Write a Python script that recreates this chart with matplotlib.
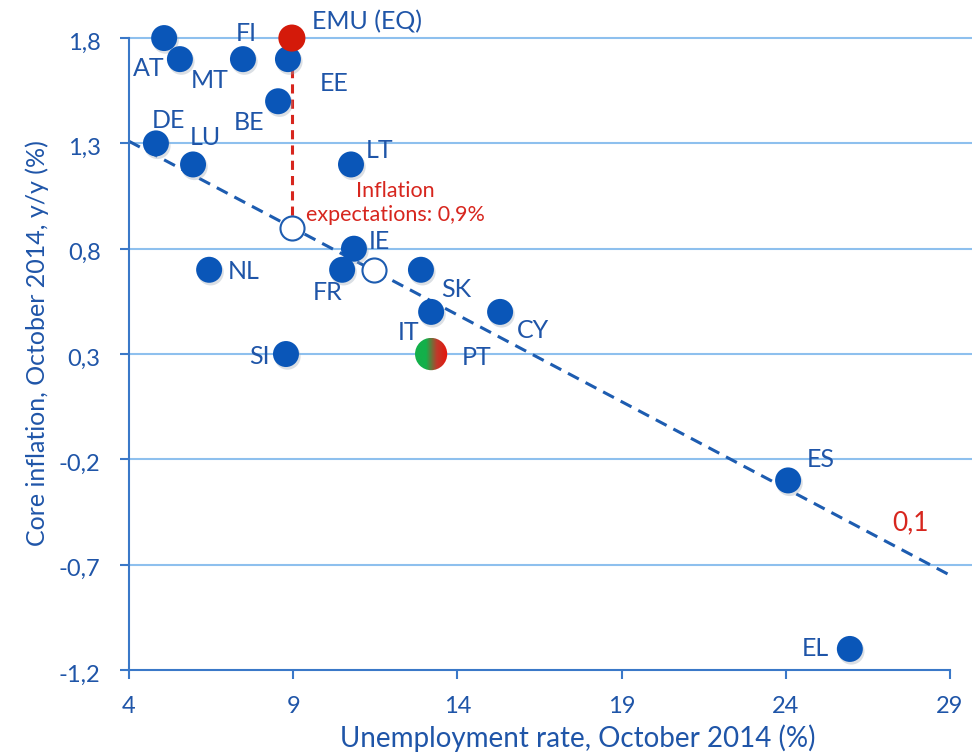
import matplotlib
matplotlib.use("Agg")
import matplotlib.pyplot as plt
import matplotlib.transforms as mtransforms
import numpy as np
from matplotlib.colors import LinearSegmentedColormap
from matplotlib.patches import Ellipse

plt.rcParams['font.family'] = ['Lato', 'DejaVu Sans']

countries = ['AT', 'MT', 'FI', 'EE', 'BE', 'DE', 'LU', 'LT', 'NL', 'IE', 'FR',
             'SK', 'IT', 'CY', 'SI', 'ES', 'EL']
unemp = [5.07, 5.55, 7.47, 8.84, 8.54, 4.82, 5.95, 10.76, 6.44, 10.85, 10.49,
         12.89, 13.2, 15.3, 8.78, 24.07, 25.95]
core = [1.8, 1.7, 1.7, 1.7, 1.5, 1.3, 1.2, 1.2, 0.7, 0.8, 0.7,
        0.7, 0.5, 0.5, 0.3, -0.3, -1.1]
# label offsets in pixels
offsets = {'AT': (-15, -30), 'MT': (30, -21), 'FI': (3, 26), 'EE': (46, -24),
           'BE': (-29, -21), 'DE': (13, 23), 'LU': (12, 27), 'LT': (29, 14),
           'NL': (35, -2), 'IE': (25, 7), 'FR': (-15, -23), 'SK': (35, -20),
           'IT': (-23, -21), 'CY': (33, -19), 'SI': (-27, -2), 'ES': (33, 21),
           'EL': (-34, 0)}

emu = (8.96, 1.8)
pt = (13.2, 0.3)
open_x = [8.96, 11.46]
open_y = [0.9, 0.7]
trend_x = [4, 29]
trend_y = [1.31, -0.75]

xticks = [4, 9, 14, 19, 24, 29]
yticks = [-1.2, -0.7, -0.2, 0.3, 0.8, 1.3, 1.8]
ytick_labels = ['-1,2', '-0,7', '-0,2', '0,3', '0,8', '1,3', '1,8']

blue = '#0a56b8'
txt = '#1f55a8'
grid = '#8ec0ee'
spine = '#3a78c8'
red = '#d7261e'

fig = plt.figure(figsize=(9.72, 7.55), dpi=100)
ax = fig.add_axes([129/972, 1-670/755, 1-129/972, (670-17)/755])

for y in yticks[1:]:
    ax.axhline(y, color=grid, lw=1.5, zorder=0)

for s in ['top', 'right']:
    ax.spines[s].set_visible(False)
ax.spines['left'].set_bounds(-1.2, 1.8)
ax.spines['bottom'].set_bounds(4, 29)
for s in ['left', 'bottom']:
    ax.spines[s].set_color(spine)
    ax.spines[s].set_linewidth(1.5)

ax.set_xticks(xticks)
ax.set_xticklabels([str(t) for t in xticks])
ax.set_yticks(yticks)
ax.set_yticklabels(ytick_labels)
ax.tick_params(axis='both', colors=spine, labelcolor=txt, labelsize=17,
               width=1.5, length=6.5)
ax.tick_params(axis='x', pad=12)
ax.tick_params(axis='y', pad=14)
for lab in ax.get_yticklabels():
    lab.set_transform(lab.get_transform() + mtransforms.ScaledTranslation(0, -3/100, fig.dpi_scale_trans))

ax.set_xlabel('Unemployment rate, October 2014 (%)', color=txt, fontsize=20)
ax.xaxis.set_label_coords(0.532, -0.083)
ax.set_ylabel('Core inflation, October 2014, y/y (%)', color=txt, fontsize=18, labelpad=7)

# trend line
ax.plot(trend_x, trend_y, ls=(0, (4, 2.5)), color='#1d5cb0', lw=2.2, zorder=2)
# red vertical dashed
ax.plot([emu[0], emu[0]], [emu[1], open_y[0]], ls=(0, (3, 2)), color=red, lw=2.2, zorder=2)

# soft shadows
shadow = ax.transData + mtransforms.ScaledTranslation(1.5/100, -2.5/100, fig.dpi_scale_trans)
ax.scatter(unemp, core, s=360, color='#9aa6b4', alpha=0.35, zorder=3, edgecolors='none',
           transform=shadow)
ax.scatter(unemp, core, s=350, color=blue, zorder=4, edgecolors='none')
ax.scatter(open_x, open_y, s=300, facecolors='white', edgecolors='#1d5cb0', lw=1.5, zorder=3)
ax.scatter([emu[0]], [emu[1]], s=380, color='#d41a0a', zorder=5, edgecolors='none')

ax.set_xlim(4, 29.67)
ax.set_ylim(-1.2, 1.9)

# PT gradient marker
cmap = LinearSegmentedColormap.from_list('gr', ['#13b04a', '#13b04a', '#c0392b', '#e8140c'])
grad = np.linspace(0, 1, 64).reshape(1, -1)
rx = 0.5
ry = rx * (33.0 / 210.7)
im = ax.imshow(grad, cmap=cmap, extent=[pt[0]-rx, pt[0]+rx, pt[1]-ry, pt[1]+ry],
               aspect='auto', zorder=5)
clip = Ellipse(pt, 2*rx*0.98, 2*ry*0.98, transform=ax.transData)
im.set_clip_path(clip)
ax.set_xlim(4, 29.67)
ax.set_ylim(-1.2, 1.9)

for c, x, y in zip(countries, unemp, core):
    dx, dy = offsets[c]
    ax.annotate(c, (x, y), xytext=(dx, dy), textcoords='offset pixels',
                ha='center', va='center', color=txt, fontsize=18)
ax.annotate('EMU (EQ)', emu, xytext=(75, 16), textcoords='offset pixels',
            ha='center', va='center', color=txt, fontsize=18)
ax.annotate('PT', pt, xytext=(45, -3), textcoords='offset pixels',
            ha='center', va='center', color=txt, fontsize=18)

ax.text(12.1, 1.015, 'Inflation\nexpectations: 0,9%', color=red, fontsize=15.5,
        ha='center', va='center', linespacing=1.25)
ax.text(27.8, -0.5, '0,1', color=red, fontsize=19, ha='center', va='center')

fig.savefig('out.png', dpi=100)
